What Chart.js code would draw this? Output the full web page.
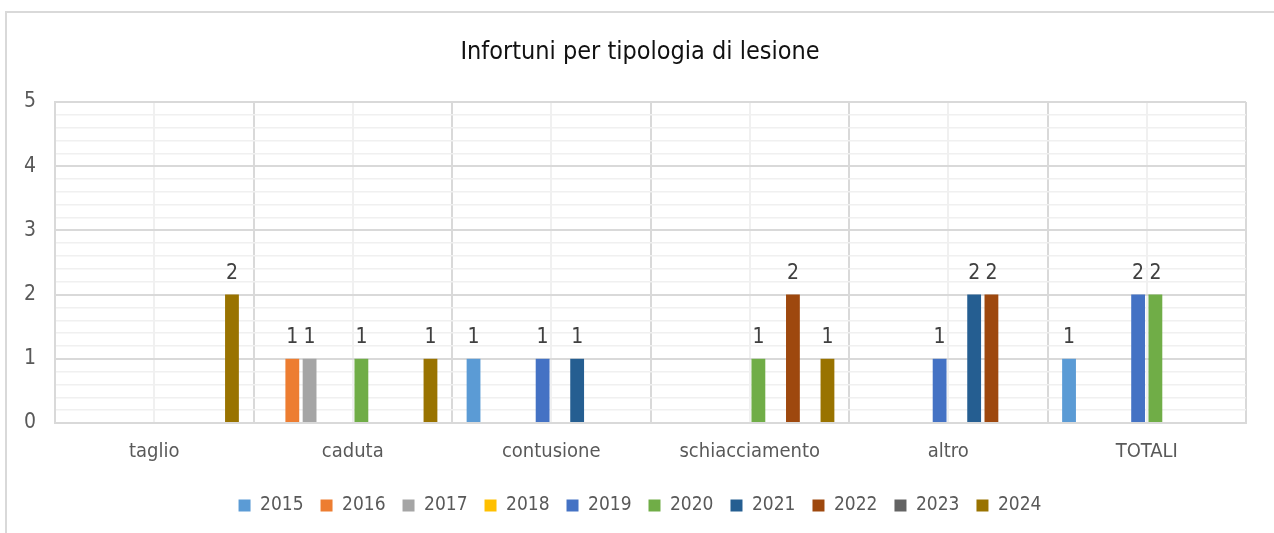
<!DOCTYPE html>
<html>
<head>
<meta charset="utf-8">
<script src="https://cdn.jsdelivr.net/npm/chart.js@4.4.1/dist/chart.umd.min.js"></script>
<style>
    html, body { margin: 0; padding: 0; background: #fff; overflow: hidden; }
    #frame {
        position: absolute; left: 5px; top: 11px;
        width: 1300px; height: 560px;
        border: 2px solid #d9d9d9; box-sizing: border-box;
    }
    #wrap { position: absolute; left: 0; top: 0; width: 1274px; height: 533px; }
</style>
</head>
<body>
<div id="frame"></div>
<div id="wrap"><canvas id="chart"></canvas></div>
<script>
// ============================================================================
// DATA
// ============================================================================

const categories = ['taglio', 'caduta', 'contusione', 'schiacciamento', 'altro', 'TOTALI'];
const years = ['2015', '2016', '2017', '2018', '2019', '2020', '2021', '2022', '2023', '2024'];

// one array per year, values per category (null = nothing recorded)
const v2015 = [null, null, 1, null, null, 1];
const v2016 = [null, 1, null, null, null, null];
const v2017 = [null, 1, null, null, null, null];
const v2018 = [null, null, null, null, null, null];
const v2019 = [null, null, 1, null, 1, 2];
const v2020 = [null, 1, null, 1, null, 2];
const v2021 = [null, null, 1, null, 2, null];
const v2022 = [null, null, null, 2, 2, null];
const v2023 = [null, null, null, null, null, null];
const v2024 = [2, 1, null, 1, null, null];

const yearValues = [v2015, v2016, v2017, v2018, v2019, v2020, v2021, v2022, v2023, v2024];

const colors = [
    '#5B9BD5', // 2015
    '#ED7D31', // 2016
    '#A5A5A5', // 2017
    '#FFC000', // 2018
    '#4472C4', // 2019
    '#70AD47', // 2020
    '#255E91', // 2021
    '#9E480E', // 2022
    '#636363', // 2023
    '#997300'  // 2024
];

const FONT = "'Liberation Sans Narrow', 'Arial Narrow', 'DejaVu Sans Condensed', sans-serif";

// ============================================================================
// PLUGINS
// ============================================================================

/**
 * Value labels above each bar
 */
const barValueLabels = {
    id: 'barValueLabels',
    afterDatasetsDraw(chart) {
        const ctx = chart.ctx;
        ctx.save();
        ctx.font = '21px ' + FONT;
        ctx.fillStyle = '#404040';
        ctx.textAlign = 'center';
        ctx.textBaseline = 'alphabetic';
        chart.data.datasets.forEach((ds, i) => {
            const meta = chart.getDatasetMeta(i);
            meta.data.forEach((bar, j) => {
                const v = ds.data[j];
                if (v === null || v === undefined) return;
                ctx.fillText(String(v), bar.x, bar.y - 16);
            });
        });
        ctx.restore();
    }
};

function isWhole(v) {
    return Math.abs(v - Math.round(v)) < 1e-6;
}

// ============================================================================
// CHART
// ============================================================================

Chart.defaults.font.family = FONT;
Chart.defaults.color = '#595959';

const ctx = document.getElementById('chart').getContext('2d');
new Chart(ctx, {
    type: 'bar',
    data: {
        labels: categories,
        datasets: years.map((y, i) => ({
            label: y,
            data: yearValues[i],
            backgroundColor: colors[i],
            borderWidth: 0,
            categoryPercentage: 0.87,
            barPercentage: 0.8
        }))
    },
    options: {
        responsive: true,
        maintainAspectRatio: false,
        animation: false,
        layout: {
            padding: { left: 6, right: 0, top: 0, bottom: 8 }
        },
        plugins: {
            title: {
                display: true,
                text: 'Infortuni per tipologia di lesione',
                color: '#111',
                font: { size: 25, weight: 'normal' },
                padding: { top: 37, bottom: 35 }
            },
            legend: {
                display: true,
                position: 'bottom',
                labels: {
                    boxWidth: 12,
                    boxHeight: 12,
                    padding: 17,
                    color: '#595959',
                    font: { size: 19 }
                }
            },
            tooltip: { enabled: false }
        },
        scales: {
            x: {
                position: 'bottom',
                grid: {
                    offset: true,
                    color: '#d9d9d9',
                    lineWidth: 2,
                    drawTicks: false
                },
                border: { color: '#d9d9d9', width: 2 },
                ticks: {
                    padding: 17,
                    color: '#595959',
                    font: { size: 20 }
                },
                afterFit: scale => { scale.height = 56; }
            },
            x2: {
                type: 'category',
                labels: categories,
                position: 'top',
                offset: true,
                grid: {
                    offset: false,
                    color: '#f0f0f0',
                    lineWidth: 2,
                    drawTicks: false
                },
                border: { display: false },
                ticks: { display: false }
            },
            y: {
                min: 0,
                max: 5,
                grid: {
                    drawTicks: false,
                    color: c => isWhole(c.tick.value) ? '#d9d9d9' : '#f0f0f0',
                    lineWidth: c => isWhole(c.tick.value) ? 2 : 1.5
                },
                border: { color: '#d9d9d9', width: 2 },
                ticks: {
                    stepSize: 0.2,
                    autoSkip: false,
                    padding: 19,
                    color: '#595959',
                    font: { size: 21 },
                    callback: v => isWhole(v) ? String(Math.round(v)) : ''
                },
                afterFit: scale => { scale.width = 49; }
            },
            // empty right-hand spacer so the title centres like the original
            yRight: {
                position: 'right',
                min: 0,
                max: 5,
                grid: { display: false },
                border: { display: false },
                ticks: { display: false },
                afterFit: scale => { scale.width = 28; }
            }
        }
    },
    plugins: [barValueLabels]
});
</script>
</body>
</html>
